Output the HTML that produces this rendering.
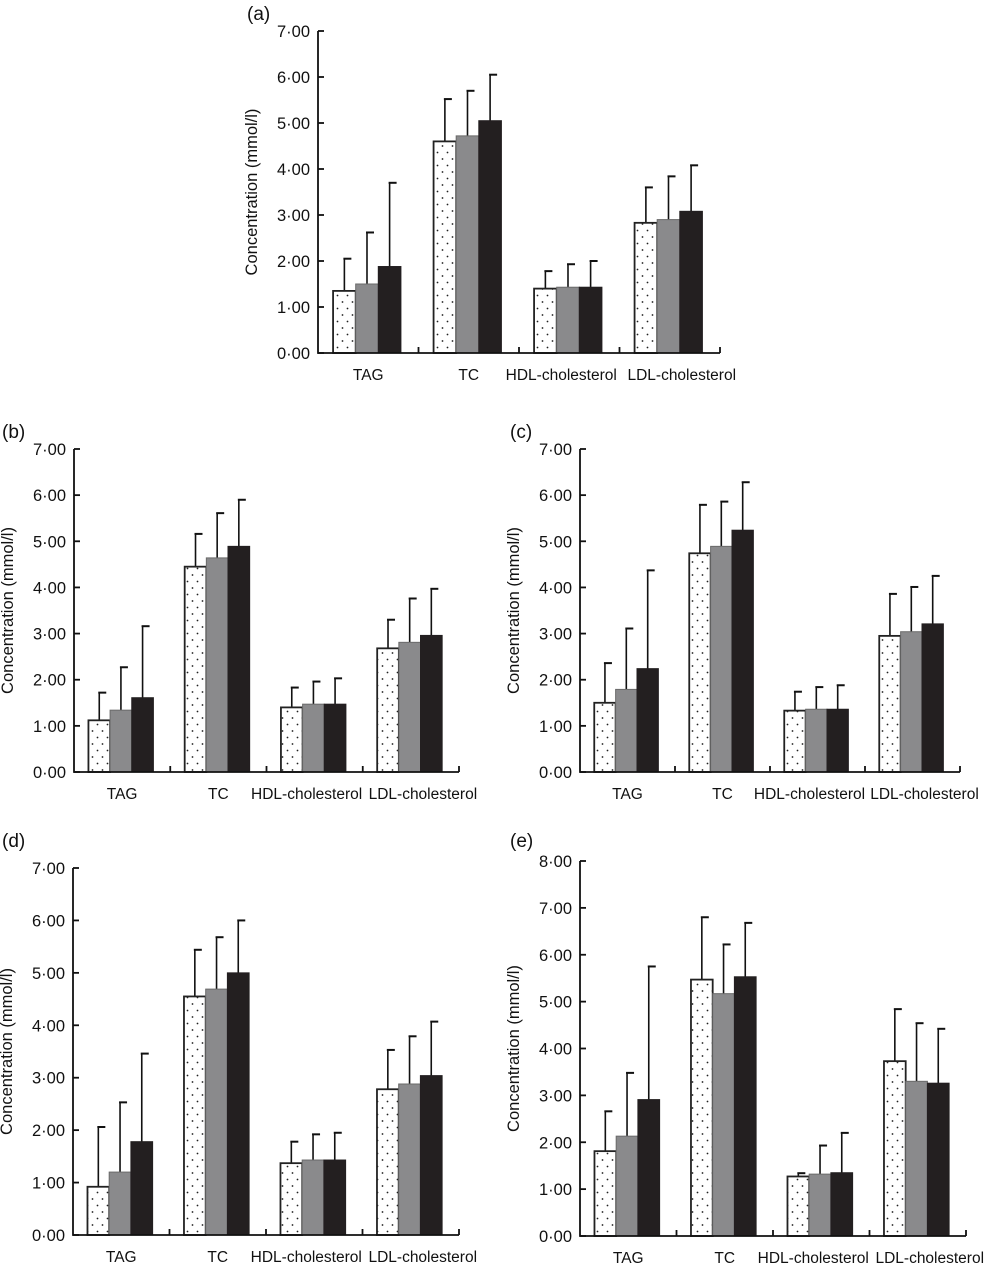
<!DOCTYPE html>
<html><head><meta charset="utf-8"><style>
html,body{margin:0;padding:0;background:#fff;}
svg{display:block;font-family:"Liberation Sans",Arial,sans-serif;}
</style></head>
<body>
<svg id="fig" width="997" height="1265" viewBox="0 0 997 1265">
<defs>
<pattern id="dots" width="10" height="13" patternUnits="userSpaceOnUse">
<rect width="10" height="13" fill="#fff"/>
<circle cx="2.5" cy="3" r="0.9" fill="#222"/>
<circle cx="7.5" cy="9.5" r="0.9" fill="#222"/>
</pattern>
</defs>
</svg>
<script>
const categories = ["TAG","TC","HDL-cholesterol","LDL-cholesterol"];
const yTicksA = ["0·00","1·00","2·00","3·00","4·00","5·00","6·00","7·00"];
const yTicksE = ["0·00","1·00","2·00","3·00","4·00","5·00","6·00","7·00","8·00"];
// means per series [TAG, TC, HDL, LDL]
const aS1 = [1.35,4.60,1.40,2.83], aS2 = [1.50,4.72,1.43,2.90], aS3 = [1.88,5.05,1.43,3.08];
const aE1 = [2.05,5.52,1.78,3.60], aE2 = [2.62,5.70,1.93,3.84], aE3 = [3.70,6.05,2.00,4.08];
const bS1 = [1.12,4.45,1.40,2.68], bS2 = [1.34,4.64,1.47,2.81], bS3 = [1.61,4.89,1.47,2.96];
const bE1 = [1.72,5.16,1.83,3.30], bE2 = [2.27,5.61,1.96,3.76], bE3 = [3.16,5.90,2.03,3.97];
const cS1 = [1.50,4.74,1.33,2.95], cS2 = [1.79,4.89,1.36,3.04], cS3 = [2.24,5.24,1.36,3.21];
const cE1 = [2.36,5.79,1.74,3.86], cE2 = [3.11,5.86,1.84,4.01], cE3 = [4.37,6.28,1.88,4.25];
const dS1 = [0.92,4.55,1.37,2.78], dS2 = [1.20,4.69,1.43,2.88], dS3 = [1.78,5.00,1.43,3.04];
const dE1 = [2.06,5.44,1.78,3.53], dE2 = [2.53,5.68,1.92,3.79], dE3 = [3.46,6.00,1.95,4.07];
const eS1 = [1.81,5.47,1.27,3.73], eS2 = [2.13,5.17,1.32,3.30], eS3 = [2.91,5.53,1.35,3.26];
const eE1 = [2.66,6.80,1.34,4.84], eE2 = [3.48,6.22,1.93,4.54], eE3 = [5.75,6.68,2.20,4.42];

const NS = "http://www.w3.org/2000/svg";
const svg = document.getElementById('fig');
function mk(tag, attrs, parent){
  const e = document.createElementNS(NS, tag);
  for (const k in attrs) e.setAttribute(k, attrs[k]);
  parent.appendChild(e);
  return e;
}
const fills = ["url(#dots)","#8a8a8c","#231f20"];
const snames = ["series-1","series-2","series-3"];
const labelOffsets = [0,0,-8,12];

function panel(id, letter, box, ticks, means, errs){
  const g = mk('g', {}, svg);
  
  
  const ymax = ticks.length - 1;
  const y = v => box.y0 - (v / ymax) * (box.y0 - box.yTop);
  const W = (box.x1 - box.x0) / 4;
  const bx = (gi, si) => box.x0 + gi * W + 0.15 * W + si * 0.225 * W;
  const bw = 0.225 * W;
  // panel letter
  const pl = mk('text', {x: box.lx, y: box.ly, 'font-size': 19, fill: '#111'}, g);
  pl.textContent = '(' + letter + ')';
  
  
  // y title
  const cy = (box.y0 + box.yTop) / 2;
  const yt = mk('text', {x: box.x0 - 61, y: cy, 'font-size': 16.5, fill: '#111', 'text-anchor': 'middle', transform: 'rotate(-90 ' + (box.x0 - 61) + ' ' + cy + ')'}, g);
  yt.textContent = 'Concentration (mmol/l)';
  
  
  // bars
  for (let si = 0; si < 3; si++) {
    for (let gi = 0; gi < 4; gi++) {
      const v = means[si][gi], ev = errs[si][gi];
      const x = bx(gi, si), top = y(v);
      const cx = x + bw / 2;
      const el = mk('line', {x1: cx, y1: top, x2: cx, y2: y(ev), stroke: '#111', 'stroke-width': 1.6}, g);
      
      
      const cap = mk('line', {x1: cx - 1, y1: y(ev), x2: cx + 7, y2: y(ev), stroke: '#111', 'stroke-width': 2}, g);
      
      
      const r = mk('rect', {x: x, y: top, width: bw, height: box.y0 - top, fill: fills[si], stroke: si === 0 ? '#222' : (si === 1 ? '#6a6a6a' : '#231f20'), 'stroke-width': si === 0 ? 1.8 : 1}, g);
      
      
    }
  }
  // axes
  const ax = mk('path', {d: 'M' + box.x0 + ' ' + (box.yTop) + ' V' + box.y0 + ' H' + box.x1, fill: 'none', stroke: '#111', 'stroke-width': 1.8}, g);
  
  
  ticks.forEach((t, i) => {
    const ty = y(i);
    const tk = mk('line', {x1: box.x0, y1: ty, x2: box.x0 + 6, y2: ty, stroke: '#111', 'stroke-width': 1.8}, g);
    
    
    const tl = mk('text', {x: box.x0 - 8, y: ty + 6, 'font-size': 16.5, fill: '#111', 'text-anchor': 'end'}, g);
    tl.textContent = t;
    
    
  });
  for (let k = 1; k <= 4; k++) {
    const tx = box.x0 + k * W;
    const tk = mk('line', {x1: tx, y1: box.y0, x2: tx, y2: box.y0 - 6, stroke: '#111', 'stroke-width': 1.8}, g);
    
    
  }
  categories.forEach((c, gi) => {
    const cl = mk('text', {x: box.x0 + (gi + 0.5) * W + labelOffsets[gi], y: box.y0 + 27, 'font-size': 15.5, fill: '#111', 'text-anchor': 'middle'}, g);
    cl.textContent = c;
    
    
  });
}

panel('a', 'a', {x0: 318, x1: 720, yTop: 31, y0: 353, lx: 247, ly: 20}, yTicksA, [aS1, aS2, aS3], [aE1, aE2, aE3]);
panel('b', 'b', {x0: 74, x1: 459, yTop: 449, y0: 772, lx: 2, ly: 438}, yTicksA, [bS1, bS2, bS3], [bE1, bE2, bE3]);
panel('c', 'c', {x0: 580, x1: 960, yTop: 449, y0: 772, lx: 510, ly: 438}, yTicksA, [cS1, cS2, cS3], [cE1, cE2, cE3]);
panel('d', 'd', {x0: 73, x1: 459, yTop: 868, y0: 1235, lx: 2, ly: 847}, yTicksA, [dS1, dS2, dS3], [dE1, dE2, dE3]);
panel('e', 'e', {x0: 580, x1: 966, yTop: 861, y0: 1236, lx: 510, ly: 847}, yTicksE, [eS1, eS2, eS3], [eE1, eE2, eE3]);
</script>
</body></html>
